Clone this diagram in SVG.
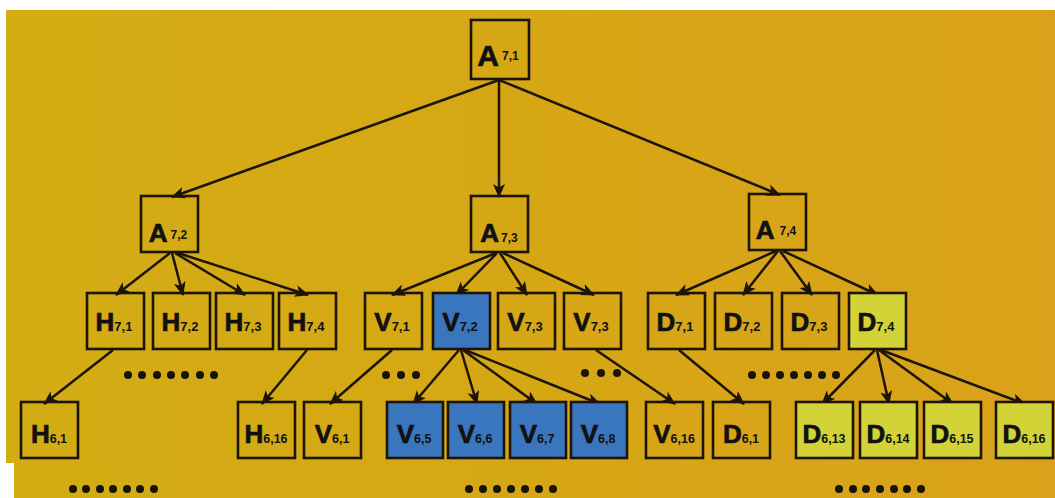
<svg xmlns="http://www.w3.org/2000/svg" width="1055" height="498" viewBox="0 0 1055 498">
  <style>
    .box { fill: none; stroke: #1c1408; stroke-width: 2.6; }
    .blue { fill: #3A76BE; }
    .lime { fill: #D3D338; }
    .lbl { font-family: "Liberation Sans", Arial, sans-serif; font-weight: bold; fill: #111; text-anchor: middle; }
    .big { font-size: 26px; stroke: #111; stroke-width: 0.7px; }
    .sub { font-size: 13px; }
    .sub4 { font-size: 12.5px; }
    .edge { stroke: #1c1408; stroke-width: 2.5; fill: none; marker-end: url(#arrow); }
    .dot { fill: #17120a; }
  </style>
  <defs>
    <linearGradient id="bg" x1="0" y1="0" x2="1" y2="0">
      <stop offset="0" stop-color="#D3AD14"/>
      <stop offset="0.5" stop-color="#D6A715"/>
      <stop offset="1" stop-color="#DAA21A"/>
    </linearGradient>
    <marker id="arrow" markerUnits="userSpaceOnUse" markerWidth="16" markerHeight="14" refX="13" refY="6" orient="auto">
      <path d="M0,0 L14,6 L0,12 L3.5,6 z" fill="#1c1408"/>
    </marker>
  </defs>

  <!-- backdrop -->
  <rect x="0" y="0" width="1055" height="498" fill="#ffffff"/>
  <rect x="6" y="10" width="1049" height="453" fill="url(#bg)"/>
  <rect x="14" y="463" width="1041" height="35" fill="url(#bg)"/>

  <!-- connectors -->
  <g id="connectors">
    <line class="edge" x1="499" y1="80" x2="172" y2="197"/>
    <line class="edge" x1="499" y1="80" x2="499" y2="197"/>
    <line class="edge" x1="499" y1="80" x2="780" y2="195"/>

    <line class="edge" x1="170" y1="253" x2="116" y2="295"/>
    <line class="edge" x1="172" y1="253" x2="183" y2="295"/>
    <line class="edge" x1="175" y1="253" x2="245" y2="295"/>
    <line class="edge" x1="178" y1="253" x2="308" y2="295"/>

    <line class="edge" x1="496" y1="253" x2="392" y2="295"/>
    <line class="edge" x1="497" y1="253" x2="456" y2="295"/>
    <line class="edge" x1="500" y1="253" x2="527" y2="295"/>
    <line class="edge" x1="503" y1="253" x2="594" y2="295"/>

    <line class="edge" x1="776" y1="251" x2="676" y2="295"/>
    <line class="edge" x1="778" y1="251" x2="743" y2="295"/>
    <line class="edge" x1="780" y1="251" x2="812" y2="295"/>
    <line class="edge" x1="783" y1="251" x2="878" y2="295"/>

    <line class="edge" x1="113" y1="350" x2="44" y2="404"/>
    <line class="edge" x1="307" y1="350" x2="262" y2="404"/>
    <line class="edge" x1="392" y1="350" x2="330" y2="404"/>

    <line class="edge" x1="459" y1="350" x2="413" y2="404"/>
    <line class="edge" x1="461" y1="350" x2="477" y2="404"/>
    <line class="edge" x1="463" y1="350" x2="537" y2="404"/>
    <line class="edge" x1="465" y1="350" x2="600" y2="404"/>

    <line class="edge" x1="596" y1="350" x2="675" y2="404"/>
    <line class="edge" x1="679" y1="350" x2="744" y2="404"/>

    <line class="edge" x1="875" y1="350" x2="822" y2="404"/>
    <line class="edge" x1="877" y1="350" x2="889" y2="404"/>
    <line class="edge" x1="879" y1="350" x2="953" y2="404"/>
    <line class="edge" x1="881" y1="350" x2="1025" y2="404"/>
  </g>

  <!-- level 1 -->
  <g id="A71">
    <rect class="box" x="471" y="20" width="58" height="59"/>
    <text class="lbl" x="498" y="66"><tspan class="big" style="font-size:30px">A</tspan><tspan dx="3" dy="-6" style="font-size:12px">7,1</tspan></text>
  </g>

  <!-- level 2 -->
  <g id="A72">
    <rect class="box" x="141" y="196" width="57" height="56"/>
    <text class="lbl" x="168" y="242"><tspan class="big">A</tspan><tspan dx="3" dy="-3" style="font-size:12px">7,2</tspan></text>
  </g>
  <g id="A73">
    <rect class="box" x="471" y="196" width="57" height="56"/>
    <text class="lbl" x="499" y="242"><tspan class="big">A</tspan><tspan dx="2" style="font-size:12px">7,3</tspan></text>
  </g>
  <g id="A74">
    <rect class="box" x="749" y="194" width="57" height="56"/>
    <text class="lbl" x="776" y="239"><tspan class="big">A</tspan><tspan dx="5" dy="-4" style="font-size:12px">7,4</tspan></text>
  </g>

  <!-- level 3 -->
  <g id="H71"><rect class="box" x="87" y="293" width="57" height="56"/><text class="lbl" x="114" y="331"><tspan class="big">H</tspan><tspan class="sub">7,1</tspan></text></g>
  <g id="H72"><rect class="box" x="153" y="293" width="57" height="56"/><text class="lbl" x="180" y="331"><tspan class="big">H</tspan><tspan class="sub">7,2</tspan></text></g>
  <g id="H73"><rect class="box" x="216" y="293" width="57" height="56"/><text class="lbl" x="243" y="331"><tspan class="big">H</tspan><tspan class="sub">7,3</tspan></text></g>
  <g id="H74"><rect class="box" x="279" y="293" width="57" height="56"/><text class="lbl" x="306" y="331"><tspan class="big">H</tspan><tspan class="sub">7,4</tspan></text></g>

  <g id="V71"><rect class="box" x="365" y="293" width="57" height="56"/><text class="lbl" x="392" y="331"><tspan class="big">V</tspan><tspan class="sub">7,1</tspan></text></g>
  <g id="V72"><rect class="box blue" x="433" y="293" width="57" height="56"/><text class="lbl" x="460" y="331"><tspan class="big">V</tspan><tspan class="sub">7,2</tspan></text></g>
  <g id="V73"><rect class="box" x="498" y="293" width="57" height="56"/><text class="lbl" x="525" y="331"><tspan class="big">V</tspan><tspan class="sub">7,3</tspan></text></g>
  <g id="V73b"><rect class="box" x="564" y="293" width="57" height="56"/><text class="lbl" x="591" y="331"><tspan class="big">V</tspan><tspan class="sub">7,3</tspan></text></g>

  <g id="D71"><rect class="box" x="648" y="293" width="57" height="56"/><text class="lbl" x="675" y="331"><tspan class="big">D</tspan><tspan class="sub">7,1</tspan></text></g>
  <g id="D72"><rect class="box" x="715" y="293" width="57" height="56"/><text class="lbl" x="742" y="331"><tspan class="big">D</tspan><tspan class="sub">7,2</tspan></text></g>
  <g id="D73"><rect class="box" x="782" y="293" width="57" height="56"/><text class="lbl" x="809" y="331"><tspan class="big">D</tspan><tspan class="sub">7,3</tspan></text></g>
  <g id="D74"><rect class="box lime" x="849" y="293" width="57" height="56"/><text class="lbl" x="876" y="331"><tspan class="big">D</tspan><tspan class="sub">7,4</tspan></text></g>

  <!-- level 4 -->
  <g id="H61"><rect class="box" x="21" y="402" width="57" height="56"/><text class="lbl" x="49" y="443"><tspan class="big">H</tspan><tspan class="sub4">6,1</tspan></text></g>
  <g id="H616"><rect class="box" x="238" y="402" width="57" height="56"/><text class="lbl" x="266" y="443"><tspan class="big">H</tspan><tspan class="sub4">6,16</tspan></text></g>
  <g id="V61"><rect class="box" x="304" y="402" width="57" height="56"/><text class="lbl" x="332" y="443"><tspan class="big">V</tspan><tspan class="sub4">6,1</tspan></text></g>
  <g id="V65"><rect class="box blue" x="387" y="402" width="56" height="56"/><text class="lbl" x="414" y="443"><tspan class="big">V</tspan><tspan class="sub4">6,5</tspan></text></g>
  <g id="V66"><rect class="box blue" x="448" y="402" width="56" height="56"/><text class="lbl" x="475" y="443"><tspan class="big">V</tspan><tspan class="sub4">6,6</tspan></text></g>
  <g id="V67"><rect class="box blue" x="510" y="402" width="56" height="56"/><text class="lbl" x="537" y="443"><tspan class="big">V</tspan><tspan class="sub4">6,7</tspan></text></g>
  <g id="V68"><rect class="box blue" x="571" y="402" width="56" height="56"/><text class="lbl" x="598" y="443"><tspan class="big">V</tspan><tspan class="sub4">6,8</tspan></text></g>
  <g id="V616"><rect class="box" x="646" y="402" width="57" height="56"/><text class="lbl" x="674" y="443"><tspan class="big">V</tspan><tspan class="sub4">6,16</tspan></text></g>
  <g id="D61"><rect class="box" x="713" y="402" width="57" height="56"/><text class="lbl" x="741" y="443"><tspan class="big">D</tspan><tspan class="sub4">6,1</tspan></text></g>
  <g id="D613"><rect class="box lime" x="796" y="402" width="57" height="56"/><text class="lbl" x="824" y="443"><tspan class="big">D</tspan><tspan class="sub4">6,13</tspan></text></g>
  <g id="D614"><rect class="box lime" x="860" y="402" width="57" height="56"/><text class="lbl" x="888" y="443"><tspan class="big">D</tspan><tspan class="sub4">6,14</tspan></text></g>
  <g id="D615"><rect class="box lime" x="924" y="402" width="57" height="56"/><text class="lbl" x="952" y="443"><tspan class="big">D</tspan><tspan class="sub4">6,15</tspan></text></g>
  <g id="D616"><rect class="box lime" x="996" y="402" width="57" height="56"/><text class="lbl" x="1024" y="443"><tspan class="big">D</tspan><tspan class="sub4">6,16</tspan></text></g>

  <!-- ellipsis dots -->
  <g id="dots">
    <circle class="dot" cx="128" cy="375" r="4"/><circle class="dot" cx="142" cy="375" r="4"/><circle class="dot" cx="157" cy="375" r="4"/><circle class="dot" cx="171" cy="375" r="4"/><circle class="dot" cx="185" cy="375" r="4"/><circle class="dot" cx="200" cy="375" r="4"/><circle class="dot" cx="214" cy="375" r="4"/>
    <circle class="dot" cx="386" cy="375" r="4"/><circle class="dot" cx="401" cy="375" r="4"/><circle class="dot" cx="416" cy="375" r="4"/>
    <circle class="dot" cx="585" cy="373" r="4"/><circle class="dot" cx="601" cy="373" r="4"/><circle class="dot" cx="617" cy="373" r="4"/>
    <circle class="dot" cx="752" cy="375" r="4"/><circle class="dot" cx="766" cy="375" r="4"/><circle class="dot" cx="780" cy="375" r="4"/><circle class="dot" cx="794" cy="375" r="4"/><circle class="dot" cx="808" cy="375" r="4"/><circle class="dot" cx="822" cy="375" r="4"/><circle class="dot" cx="836" cy="375" r="4"/>
    <circle class="dot" cx="73" cy="489" r="4"/><circle class="dot" cx="86" cy="489" r="4"/><circle class="dot" cx="100" cy="489" r="4"/><circle class="dot" cx="113" cy="489" r="4"/><circle class="dot" cx="127" cy="489" r="4"/><circle class="dot" cx="140" cy="489" r="4"/><circle class="dot" cx="154" cy="489" r="4"/>
    <circle class="dot" cx="469" cy="489" r="4"/><circle class="dot" cx="483" cy="489" r="4"/><circle class="dot" cx="497" cy="489" r="4"/><circle class="dot" cx="511" cy="489" r="4"/><circle class="dot" cx="525" cy="489" r="4"/><circle class="dot" cx="539" cy="489" r="4"/><circle class="dot" cx="553" cy="489" r="4"/>
    <circle class="dot" cx="839" cy="489" r="4"/><circle class="dot" cx="853" cy="489" r="4"/><circle class="dot" cx="866" cy="489" r="4"/><circle class="dot" cx="880" cy="489" r="4"/><circle class="dot" cx="894" cy="489" r="4"/><circle class="dot" cx="907" cy="489" r="4"/><circle class="dot" cx="921" cy="489" r="4"/>
  </g>
</svg>
